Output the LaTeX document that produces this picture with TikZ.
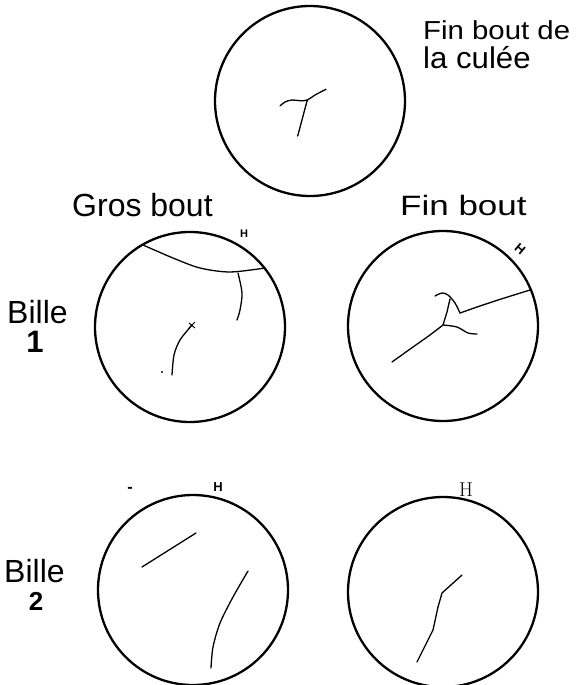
\documentclass[tikz,border=0pt]{standalone}
\usepackage{fontspec}
\usepackage{graphicx}
\setmainfont{Liberation Sans}
\newfontfamily\lmr{Latin Modern Roman}
\begin{document}
\begin{tikzpicture}[x=1pt,y=-1pt,
  rim/.style={line width=2.3pt},
  crack/.style={line width=1.3pt, line join=round, line cap=round},
  lbl/.style={inner sep=0pt, anchor=base west},
  hlbl/.style={inner sep=0pt, anchor=center}
]
\useasboundingbox (0,0) rectangle (578,685);

% log-end sections
\coordinate (c0) at (310,101);
\coordinate (c1) at (190,327);
\coordinate (c2) at (443,326);
\coordinate (c3) at (193,590);
\coordinate (c4) at (443,592);
\foreach \c in {c0,c1,c2,c3,c4} \draw[rim] (\c) circle[radius=95];

% headings
\node[lbl] (t0a) at (423,40) {\fontsize{26}{26}\selectfont\scalebox{1.13}[1]{Fin bout de}};
\node[lbl] (t0b) at (423,68) {\fontsize{30}{30}\selectfont\scalebox{1.04}[1]{la culée}};
\node[lbl] (tgros) at (72,216) {\fontsize{32}{32}\selectfont Gros bout};
\node[lbl] (tfin) at (400,215) {\fontsize{28}{28}\selectfont\scalebox{1.25}[1]{Fin bout}};
\node[lbl] (b1) at (7,323) {\fontsize{32}{32}\selectfont Bille};
\node[inner sep=0pt, anchor=base] (n1) at (35,352) {\fontsize{31}{31}\selectfont\bfseries 1};
\node[lbl] (b2) at (4,582) {\fontsize{32}{32}\selectfont Bille};
\node[inner sep=0pt, anchor=base] (n2) at (36,610) {\fontsize{26}{26}\selectfont\bfseries 2};

% H marks
\node[hlbl] (h1) at (244,234) {\fontsize{11}{11}\selectfont\bfseries H};
\node[hlbl, rotate=-40] (h2) at (520,249) {\fontsize{13}{13}\selectfont\bfseries H};
\node[hlbl] (h3) at (218,487) {\fontsize{13}{13}\selectfont\bfseries H};
\node[hlbl] (h4) at (466,490) {\fontsize{20}{20}\selectfont\lmr H};
\node[hlbl] (dsh) at (130,490) {\fontsize{16}{16}\selectfont\bfseries -};

% cracks: butt end of the log
\draw[crack] plot[smooth, tension=0.6] coordinates {(280,106) (285,102) (292,100) (300,100.7) (307.3,100) (315,95) (326,89.3)};
\draw[crack] (307.3,100) -- (297.7,136);

% cracks: billet 1, large end
\draw[crack] plot[smooth] coordinates {(143,245) (173,258) (200,268) (230,272) (265,268)};
\draw[crack] plot[smooth] coordinates {(238,273) (242,293) (240,310) (237,320)};
\draw[crack] plot[smooth] coordinates {(192,325) (180,340) (174,355) (172,375)};
\draw[line width=1pt] (189,323) -- (195,328) (195,322) -- (189,328);
\fill (162,372) circle[radius=1.2];

% cracks: billet 1, small end
\draw[crack] (392,362) -- (413,347) -- (430,335) -- (443,325);
\draw[crack] plot[smooth] coordinates {(443,325) (457,327) (468,333) (477,334)};
\draw[crack] (443,325) -- (447,312) -- (450,299);
\draw[crack] plot[smooth] coordinates {(435,296) (442,293) (448,295) (455,303) (460,313)};
\draw[crack] (460,313) -- (477,307) -- (498,300) -- (530,290);

% cracks: billet 2, large end
\draw[crack] (142,567) -- (196,533);
\draw[crack] plot[smooth] coordinates {(248,571) (233,597) (220,623) (213,647) (211,668)};

% cracks: billet 2, small end
\draw[crack] (462,575) -- (442,593) -- (438,607) -- (433,630) -- (417,662);
\end{tikzpicture}
\end{document}
